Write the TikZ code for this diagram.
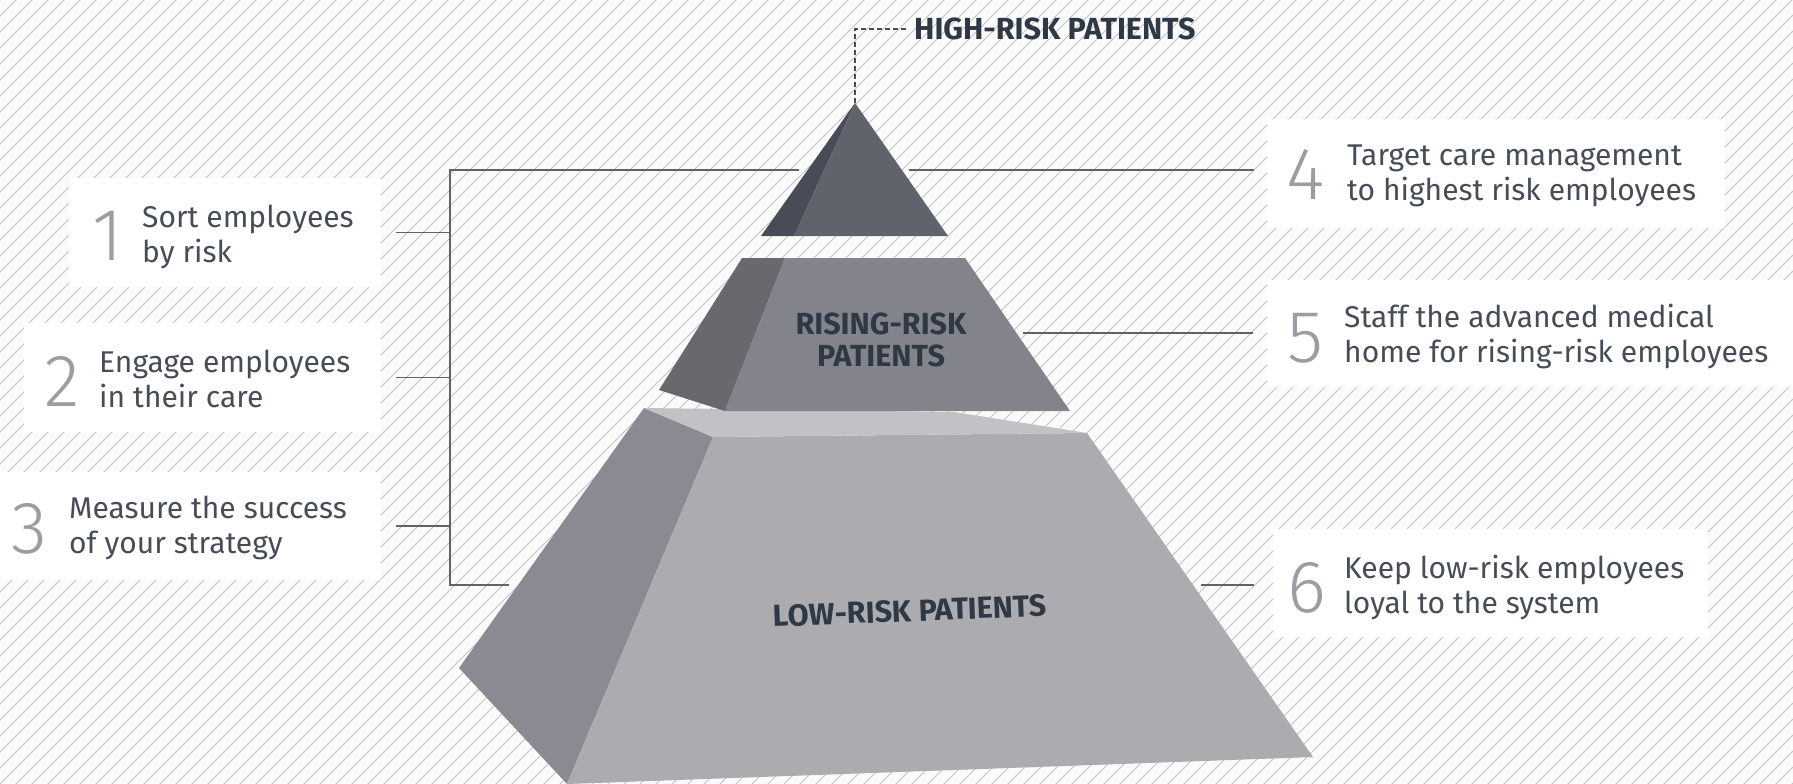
\documentclass[tikz,border=0pt]{standalone}
\usepackage{fontspec}
\setmainfont{Fira Sans}
\newfontfamily\numfont{Fira Sans Light}
\usepackage{tikz}

\definecolor{paper}{HTML}{FAFAFA}
\definecolor{hatchgray}{HTML}{C4C4C4}
\definecolor{ink}{HTML}{474D57}
\definecolor{numgray}{HTML}{9C9CA3}
\definecolor{lblink}{HTML}{2E3945}
\definecolor{rulegray}{HTML}{5F646C}
\definecolor{topdark}{HTML}{474C56}
\definecolor{topfront}{HTML}{5F636C}
\definecolor{midside}{HTML}{67696F}
\definecolor{midfront}{HTML}{83838B}
\definecolor{lowtop}{HTML}{C2C2C6}
\definecolor{lowside}{HTML}{8A8A92}
\definecolor{lowfront}{HTML}{ABABB0}

\begin{document}
\begin{tikzpicture}[x=1pt, y=-1pt,
    card/.style={fill=white, inner sep=0pt, anchor=north west},
    num/.style={font=\numfont\fontsize{74}{74}\selectfont, text=numgray, inner sep=0pt, anchor=base west},
    desc/.style={font=\fontsize{30}{34.5}\selectfont, text=ink, align=left, inner sep=0pt, anchor=base west},
    risklbl/.style={font=\bfseries\fontsize{30.5}{32}\selectfont, text=lblink, align=center, inner sep=0pt},
    link/.style={draw=rulegray, line width=1.5pt},
    leader/.style={draw=ink, line width=1.2pt, dash pattern=on 5pt off 3pt}]
        \useasboundingbox (0,0) rectangle (1793,784);
        \clip (0,0) rectangle (1793,784);
        \fill [paper] (0,0) rectangle (1793,784);
        \foreach \k in {0,16,...,2580}
          \draw [hatchgray, line width=1pt] ({\k-784},784) -- (\k,0);

        % cards
        \node [card, minimum width=312pt, minimum height=109pt] (b1) at (69,178)   {};
        \node [card, minimum width=357pt, minimum height=109pt] (b2) at (24,323)   {};
        \node [card, minimum width=391pt, minimum height=108pt] (b3) at (-10,472)  {};
        \node [card, minimum width=458pt, minimum height=109pt] (b4) at (1267,119) {};
        \node [card, minimum width=540pt, minimum height=107pt] (b5) at (1267,280) {};
        \node [card, minimum width=435pt, minimum height=108pt] (b6) at (1273,529) {};

        \node [num]  (n1) at (92,260)   {1};
        \node [desc] (d1) at (142,262)  {Sort employees\\by risk};
        \node [num]  (n2) at (44,406)   {2};
        \node [desc] (d2) at (99,407)   {Engage employees\\in their care};
        \node [num]  (n3) at (11,553)   {3};
        \node [desc] (d3) at (69,553)   {Measure the success\\of your strategy};
        \node [num]  (n4) at (1286,199) {4};
        \node [desc] (d4) at (1347,200) {Target care management\\to highest risk employees};
        \node [num]  (n5) at (1287,362) {5};
        \node [desc] (d5) at (1344,362) {Staff the advanced medical\\home for rising-risk employees};
        \node [num]  (n6) at (1287,612) {6};
        \node [desc] (d6) at (1344,613) {Keep low-risk employees\\loyal to the system};

        % pyramid
        \fill [lowside]  (644,408) -- (713,437) -- (567,784) -- (459,668) -- cycle;
        \fill [lowfront] (713,437) -- (1087,433) -- (1313,757) -- (567,784) -- cycle;
        \fill [lowtop]   (644,408) -- (954,412) -- (1087,433) -- (713,437) -- cycle;
        \fill [midside]  (742,258) -- (785,258) -- (725,411) -- (659,390) -- cycle;
        \fill [midfront] (785,258) -- (965,258) -- (1070,411) -- (725,411) -- cycle;
        \fill [topdark]  (855,103) -- (794,236) -- (761,236) -- cycle;
        \fill [topfront] (855,103) -- (948,236) -- (794,236) -- cycle;

        \node [risklbl] (rising) at (881,340) {RISING-RISK\\PATIENTS};
        \node [risklbl, rotate=2.2] (low) at (910,611) {LOW-RISK PATIENTS};
        \node [risklbl, anchor=west, inner sep=7pt] (high) at (907,29) {HIGH-RISK PATIENTS};

        \coordinate (apex) at (855,103);
        \coordinate (brk)  at (450,170);
        \coordinate (hl)   at (799,170);
        \coordinate (ll)   at (509,585);
        \coordinate (t4)   at (909,170);
        \coordinate (t5)   at (1023,333);
        \coordinate (t6)   at (1201,585);

        \draw [leader] (apex) |- (high.west);
        \draw [link] (hl) -- (brk) |- (ll);
        \foreach \b in {b1,b2,b3}
          \draw [link, shorten <=15pt] (\b.east) -- (\b.east -| brk);
        \draw [link, shorten >=13pt] (t4) -- (t4 -| b4.west);
        \draw [link, shorten >=14pt] (t5) -- (t5 -| b5.west);
        \draw [link, shorten >=19pt] (t6) -- (t6 -| b6.west);
      \end{tikzpicture}
\end{document}
